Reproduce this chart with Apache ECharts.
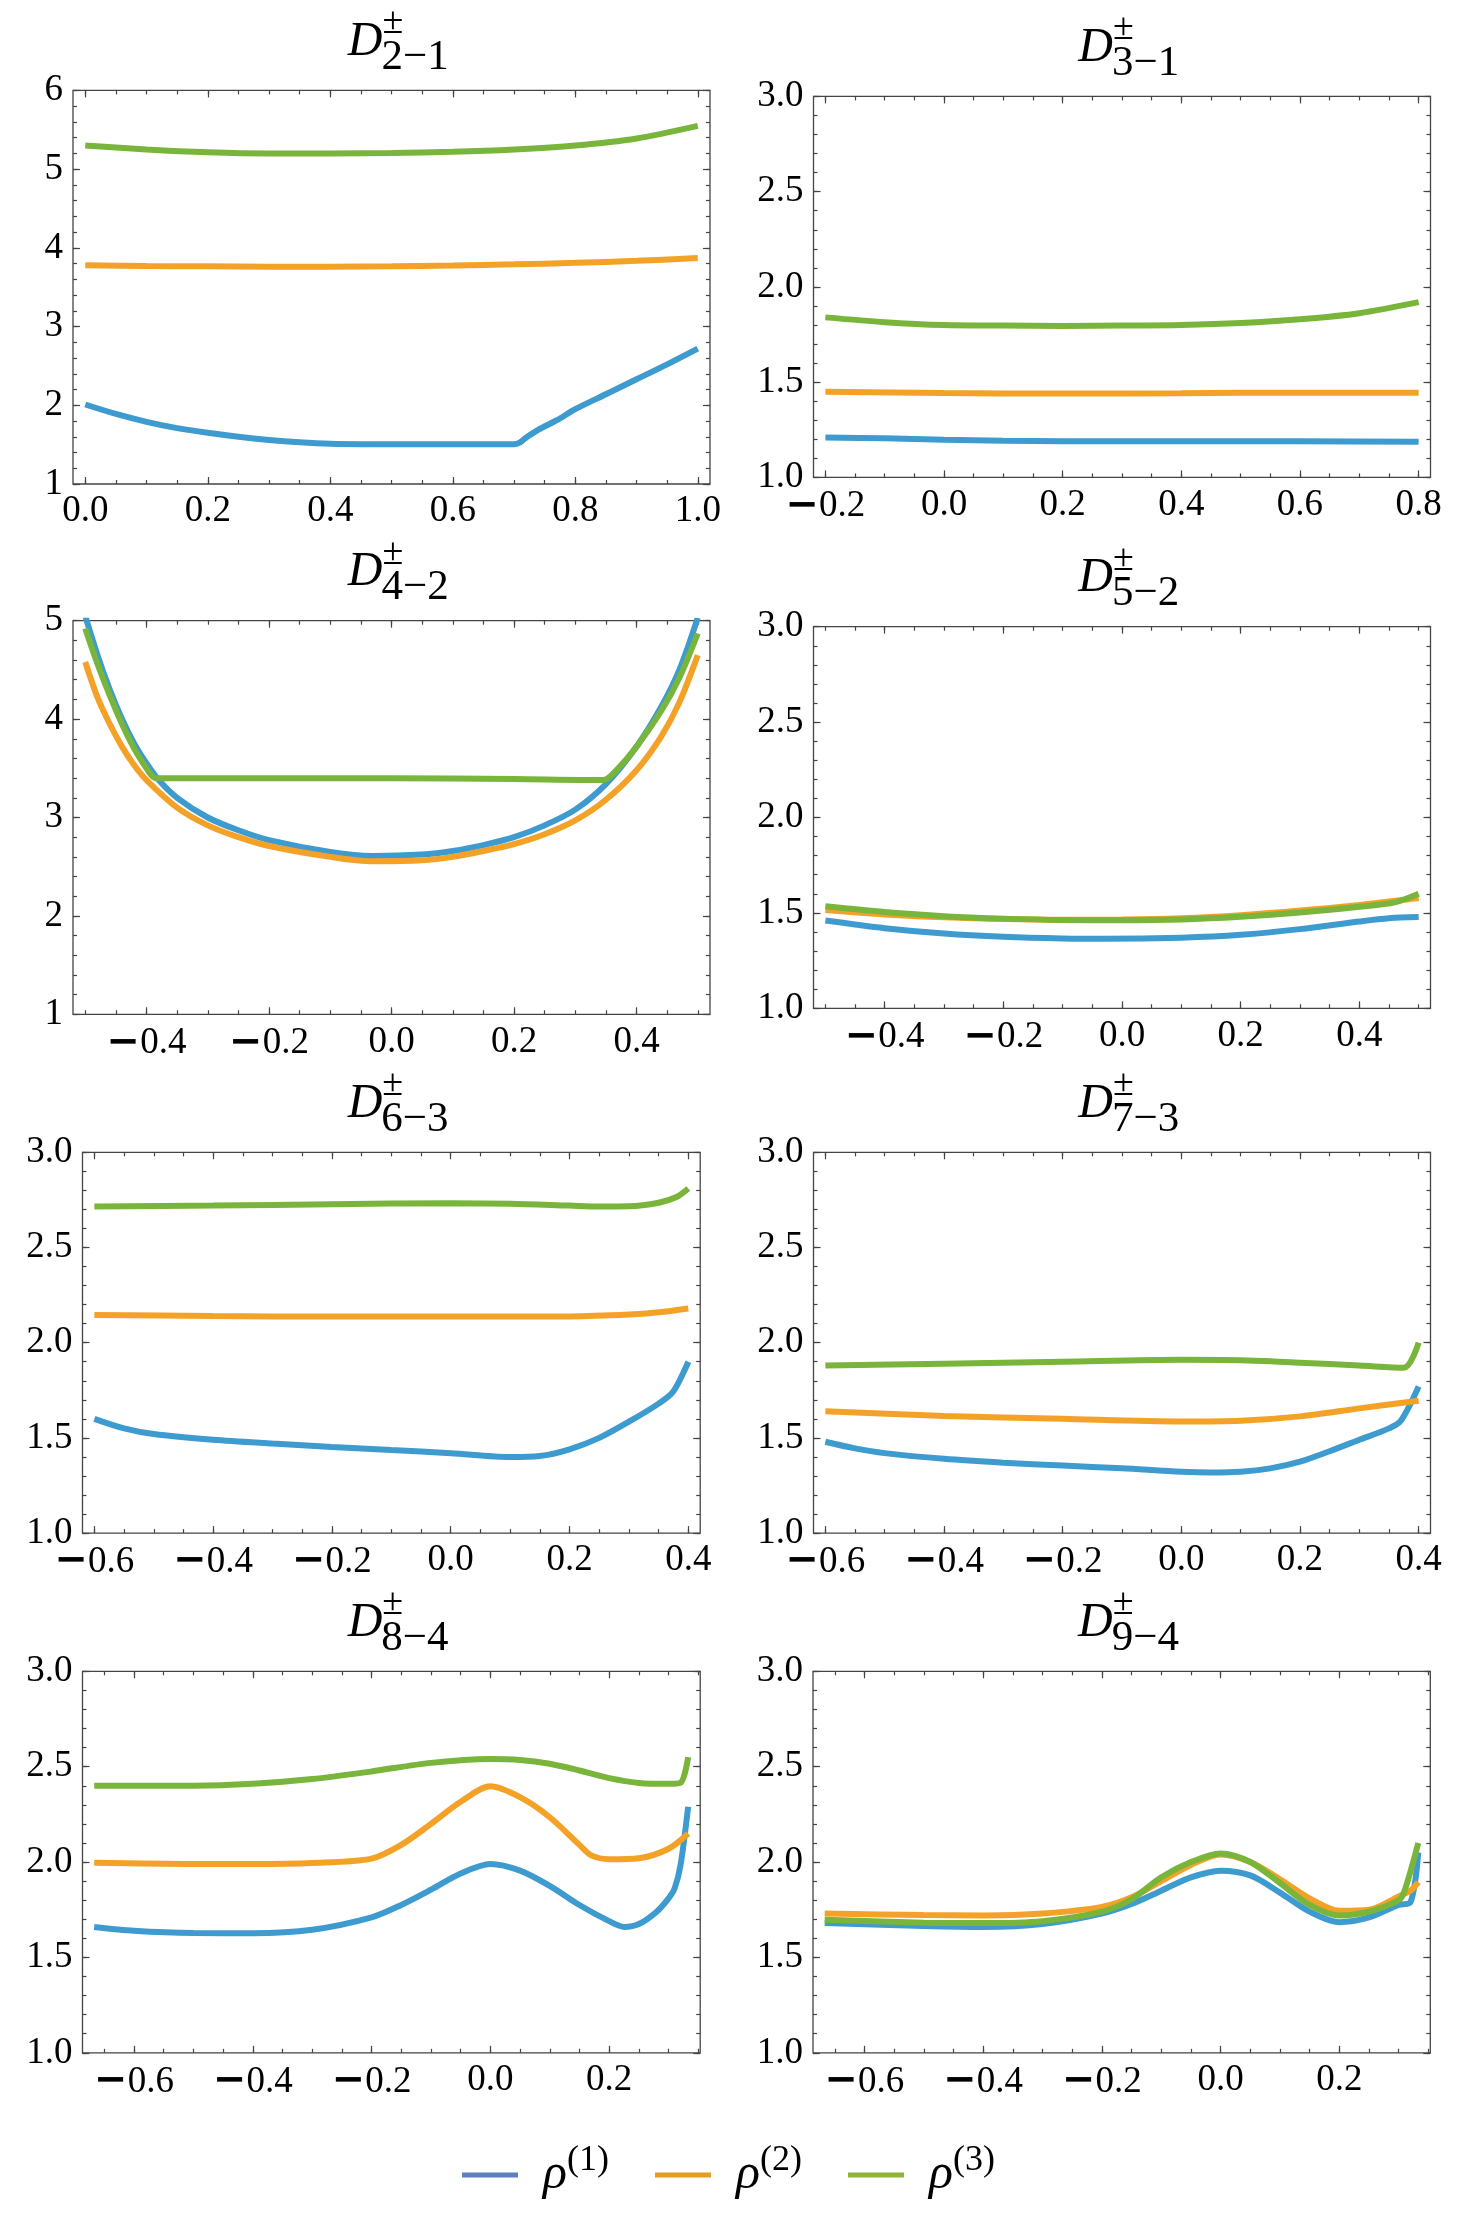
<!DOCTYPE html>
<html>
<head>
<meta charset="utf-8">
<title>D panels</title>
<script src="https://cdn.jsdelivr.net/npm/echarts@6/dist/echarts.min.js"></script>
<style>
html, body { margin: 0; padding: 0; background: #fff; }
#chart { width: 1462px; height: 2223px; }
</style>
</head>
<body>
<div id="chart"></div>
<script>
// series names
var names = ['ρ(1)', 'ρ(2)', 'ρ(3)'];

// tick labels
var xt_a = [0, 0.2, 0.4, 0.6, 0.8, 1.0];
var xt_b = [-0.2, 0, 0.2, 0.4, 0.6, 0.8];
var xt_c = [-0.4, -0.2, 0, 0.2, 0.4];
var xt_d = [-0.6, -0.4, -0.2, 0, 0.2, 0.4];
var xt_e = [-0.6, -0.4, -0.2, 0, 0.2];
var yt_6 = [1, 2, 3, 4, 5, 6];
var yt_5 = [1, 2, 3, 4, 5];
var yt_3 = [1.0, 1.5, 2.0, 2.5, 3.0];

// D 2-1
var b21 = [[0,2.01],[0.05,1.89],[0.1,1.79],[0.15,1.71],[0.2,1.65],[0.25,1.6],[0.3,1.56],[0.35,1.53],[0.4,1.51],[0.45,1.505],[0.5,1.505],[0.6,1.505],[0.7,1.505],[0.71,1.53],[0.72,1.59],[0.74,1.69],[0.77,1.81],[0.8,1.95],[0.85,2.14],[0.9,2.33],[0.95,2.52],[1.0,2.72]];
var o21 = [[0,3.78],[0.1,3.77],[0.2,3.765],[0.3,3.76],[0.4,3.76],[0.5,3.765],[0.6,3.775],[0.7,3.79],[0.8,3.81],[0.9,3.835],[1.0,3.87]];
var g21 = [[0,5.3],[0.1,5.25],[0.2,5.215],[0.3,5.2],[0.4,5.2],[0.5,5.205],[0.6,5.22],[0.7,5.25],[0.8,5.3],[0.9,5.39],[1.0,5.55]];
// D 3-1
var b31 = [[-0.2,1.21],[-0.1,1.205],[0,1.198],[0.1,1.193],[0.2,1.19],[0.4,1.19],[0.6,1.19],[0.8,1.187]];
var o31 = [[-0.2,1.45],[0,1.443],[0.2,1.44],[0.4,1.442],[0.6,1.445],[0.8,1.444]];
var g31 = [[-0.2,1.84],[-0.1,1.815],[0,1.8],[0.1,1.797],[0.2,1.795],[0.3,1.797],[0.4,1.8],[0.5,1.81],[0.6,1.83],[0.7,1.862],[0.8,1.92]];
// D 4-2
var b42 = [[-0.5,5.05],[-0.48,4.65],[-0.46,4.3],[-0.44,4.0],[-0.42,3.75],[-0.4,3.55],[-0.38,3.38],[-0.35,3.2],[-0.3,3.0],[-0.25,2.87],[-0.2,2.77],[-0.1,2.65],[-0.03,2.61],[0.05,2.625],[0.1,2.66],[0.15,2.72],[0.2,2.8],[0.25,2.92],[0.3,3.08],[0.35,3.34],[0.4,3.72],[0.44,4.12],[0.47,4.5],[0.5,5.03]];
var o42 = [[-0.5,4.58],[-0.48,4.22],[-0.46,3.95],[-0.44,3.72],[-0.42,3.53],[-0.4,3.38],[-0.35,3.1],[-0.3,2.92],[-0.25,2.8],[-0.2,2.71],[-0.1,2.6],[-0.03,2.555],[0.05,2.565],[0.1,2.6],[0.15,2.66],[0.2,2.73],[0.25,2.83],[0.3,2.97],[0.35,3.18],[0.4,3.48],[0.44,3.82],[0.47,4.17],[0.5,4.65]];
var g42 = [[-0.5,4.92],[-0.48,4.56],[-0.46,4.24],[-0.44,3.95],[-0.42,3.7],[-0.4,3.5],[-0.385,3.4],[-0.2,3.4],[0,3.4],[0.2,3.39],[0.345,3.38],[0.37,3.5],[0.4,3.72],[0.44,4.08],[0.47,4.42],[0.5,4.87]];
// D 5-2
var b52 = [[-0.5,1.46],[-0.4,1.42],[-0.3,1.392],[-0.2,1.375],[-0.1,1.366],[-0.03,1.364],[0.1,1.37],[0.2,1.385],[0.3,1.415],[0.4,1.455],[0.45,1.472],[0.5,1.478]];
var o52 = [[-0.5,1.515],[-0.4,1.492],[-0.3,1.477],[-0.2,1.468],[-0.1,1.464],[0,1.465],[0.1,1.472],[0.2,1.488],[0.3,1.512],[0.4,1.542],[0.5,1.578]];
var g52 = [[-0.5,1.535],[-0.4,1.505],[-0.3,1.483],[-0.2,1.47],[-0.1,1.463],[0,1.462],[0.1,1.466],[0.2,1.48],[0.3,1.502],[0.4,1.532],[0.46,1.555],[0.5,1.6]];
// D 6-3
var b63 = [[-0.6,1.6],[-0.55,1.55],[-0.5,1.52],[-0.4,1.49],[-0.3,1.47],[-0.2,1.452],[-0.1,1.436],[0,1.42],[0.1,1.4],[0.15,1.405],[0.2,1.44],[0.25,1.5],[0.3,1.585],[0.35,1.68],[0.375,1.745],[0.4,1.9]];
var o63 = [[-0.6,2.146],[-0.4,2.14],[-0.2,2.137],[0,2.137],[0.2,2.138],[0.3,2.148],[0.35,2.16],[0.4,2.18]];
var g63 = [[-0.6,2.715],[-0.4,2.72],[-0.2,2.727],[0,2.733],[0.1,2.73],[0.2,2.72],[0.25,2.715],[0.3,2.716],[0.35,2.735],[0.38,2.765],[0.4,2.81]];
// D 7-3
var b73 = [[-0.6,1.48],[-0.55,1.445],[-0.5,1.42],[-0.4,1.39],[-0.3,1.37],[-0.2,1.355],[-0.1,1.34],[0,1.322],[0.05,1.318],[0.1,1.322],[0.15,1.34],[0.2,1.375],[0.25,1.43],[0.3,1.49],[0.35,1.55],[0.37,1.59],[0.4,1.77]];
var o73 = [[-0.6,1.64],[-0.4,1.615],[-0.2,1.6],[0,1.586],[0.1,1.59],[0.2,1.613],[0.3,1.655],[0.4,1.695]];
var g73 = [[-0.6,1.88],[-0.4,1.89],[-0.2,1.9],[0,1.91],[0.1,1.908],[0.2,1.895],[0.3,1.88],[0.375,1.868],[0.4,2.0]];
// D 8-4
var b84 = [[-0.667,1.66],[-0.6,1.64],[-0.5,1.628],[-0.4,1.627],[-0.3,1.645],[-0.2,1.71],[-0.15,1.775],[-0.1,1.855],[-0.05,1.94],[0,1.99],[0.05,1.955],[0.1,1.875],[0.15,1.775],[0.2,1.69],[0.225,1.66],[0.25,1.675],[0.28,1.74],[0.3,1.81],[0.31,1.86],[0.32,1.98],[0.333,2.29]];
var o84 = [[-0.667,1.996],[-0.5,1.99],[-0.4,1.99],[-0.3,1.995],[-0.2,2.018],[-0.15,2.09],[-0.1,2.2],[-0.05,2.316],[0,2.397],[0.05,2.34],[0.1,2.235],[0.15,2.09],[0.17,2.035],[0.2,2.015],[0.25,2.02],[0.3,2.07],[0.333,2.15]];
var g84 = [[-0.667,2.4],[-0.5,2.4],[-0.4,2.41],[-0.3,2.435],[-0.2,2.475],[-0.1,2.52],[0,2.54],[0.05,2.535],[0.1,2.515],[0.15,2.48],[0.2,2.44],[0.25,2.415],[0.3,2.41],[0.32,2.415],[0.333,2.55]];
// D 9-4
var b94 = [[-0.667,1.68],[-0.5,1.665],[-0.4,1.66],[-0.3,1.675],[-0.2,1.73],[-0.15,1.78],[-0.1,1.85],[-0.05,1.92],[0,1.955],[0.05,1.93],[0.1,1.84],[0.15,1.74],[0.2,1.685],[0.25,1.71],[0.3,1.775],[0.32,1.79],[0.333,2.05]];
var o94 = [[-0.667,1.73],[-0.5,1.722],[-0.4,1.72],[-0.3,1.73],[-0.2,1.765],[-0.15,1.815],[-0.1,1.9],[-0.05,1.985],[0,2.04],[0.05,2.0],[0.1,1.91],[0.15,1.81],[0.2,1.745],[0.25,1.75],[0.3,1.82],[0.32,1.85],[0.333,1.895]];
var g94 = [[-0.667,1.697],[-0.5,1.682],[-0.4,1.68],[-0.3,1.69],[-0.2,1.74],[-0.15,1.805],[-0.1,1.92],[-0.05,2.0],[0,2.045],[0.05,2.0],[0.1,1.89],[0.15,1.775],[0.2,1.72],[0.25,1.74],[0.3,1.8],[0.31,1.85],[0.333,2.1]];

var lineColors = ['#3e9bd0', '#f4a227', '#78b53a'];
var legendColors = ['#5b80bd', '#e49c27', '#8fb23a'];
var frame = '#444';
var serif = '"Liberation Serif", "DejaVu Serif", serif';

var panels = [
  {sub:'2−1', l:73,  t:90.4,   w:637, h:393.6, xr:[-0.02,1.02],   yr:[1,6], xt:xt_a, yt:yt_6, ym:0.2, yd:0, d:[b21,o21,g21]},
  {sub:'3−1', l:813.5, t:96.4, w:617, h:381,   xr:[-0.22,0.82],   yr:[1,3], xt:xt_b, yt:yt_3, ym:0.1, yd:1, d:[b31,o31,g31]},
  {sub:'4−2', l:73,  t:620.7,  w:637, h:393.6, xr:[-0.52,0.52],   yr:[1,5], xt:xt_c, yt:yt_5, ym:0.2, yd:0, d:[b42,o42,g42]},
  {sub:'5−2', l:813.5, t:626.7, w:617, h:381.6, xr:[-0.52,0.52],  yr:[1,3], xt:xt_c, yt:yt_3, ym:0.1, yd:1, d:[b52,o52,g52]},
  {sub:'6−3', l:82.5, t:1152.3, w:617.7, h:380.8, xr:[-0.62,0.42], yr:[1,3], xt:xt_d, yt:yt_3, ym:0.1, yd:1, d:[b63,o63,g63]},
  {sub:'7−3', l:813.5, t:1152.3, w:617, h:380.8, xr:[-0.62,0.42], yr:[1,3], xt:xt_d, yt:yt_3, ym:0.1, yd:1, d:[b73,o73,g73]},
  {sub:'8−4', l:82.5, t:1671.3, w:617.7, h:381.5, xr:[-0.6867,0.3533], yr:[1,3], xt:xt_e, yt:yt_3, ym:0.1, yd:1, d:[b84,o84,g84]},
  {sub:'9−4', l:813, t:1671.3, w:617.3, h:381.5, xr:[-0.6867,0.3533], yr:[1,3], xt:xt_e, yt:yt_3, ym:0.1, yd:1, d:[b94,o94,g94]}
];

function minors(r, step) {
  var out = [];
  for (var k = Math.ceil(r[0] / step - 1e-9); k * step <= r[1] + 1e-9; k++) {
    out.push(Math.round(k * step * 10000) / 10000);
  }
  return out;
}

function fmtX(v) {
  if (v < -1e-9) return '{m|−}' + Math.abs(v).toFixed(1);
  return Math.abs(v).toFixed(1);
}

var tickLine = { color: frame, width: 1.2 };
var labelStyle = {
  color: '#000', fontFamily: serif, fontSize: 37,
  rich: { m: { fontFamily: 'DejaVu Sans', fontWeight: 'bold', fontSize: 40, color: '#000' } }
};

var grid = [], xAxis = [], yAxis = [], series = [], graphic = [];

panels.forEach(function (p, i) {
  grid.push({ left: p.l, top: p.t, width: p.w, height: p.h, show: true,
    borderColor: frame, borderWidth: 1.3, backgroundColor: 'transparent',
    containLabel: false, outerBoundsMode: 'none' });

  var xm = minors(p.xr, 0.05), ymn = minors(p.yr, p.ym);
  var bx = { type: 'value', gridIndex: i, min: p.xr[0], max: p.xr[1],
    axisLine: { show: false, onZero: false }, splitLine: { show: false } };
  var by = { type: 'value', gridIndex: i, min: p.yr[0], max: p.yr[1],
    axisLine: { show: false, onZero: false }, splitLine: { show: false } };

  xAxis.push(Object.assign({}, bx, { position: 'bottom',
    axisTick: { inside: true, length: 7, customValues: p.xt, lineStyle: tickLine },
    axisLabel: Object.assign({ customValues: p.xt, margin: 9, formatter: fmtX }, labelStyle) }));
  xAxis.push(Object.assign({}, bx, { position: 'bottom',
    axisTick: { inside: true, length: 4, customValues: xm, lineStyle: tickLine }, axisLabel: { show: false } }));
  xAxis.push(Object.assign({}, bx, { position: 'top',
    axisTick: { inside: true, length: 7, customValues: p.xt, lineStyle: tickLine }, axisLabel: { show: false } }));
  xAxis.push(Object.assign({}, bx, { position: 'top',
    axisTick: { inside: true, length: 4, customValues: xm, lineStyle: tickLine }, axisLabel: { show: false } }));

  var yd = p.yd;
  yAxis.push(Object.assign({}, by, { position: 'left',
    axisTick: { inside: true, length: 7, customValues: p.yt, lineStyle: tickLine },
    axisLabel: Object.assign({ customValues: p.yt, margin: 10,
      formatter: function (v) { return v.toFixed(yd); } }, labelStyle) }));
  yAxis.push(Object.assign({}, by, { position: 'left',
    axisTick: { inside: true, length: 4, customValues: ymn, lineStyle: tickLine }, axisLabel: { show: false } }));
  yAxis.push(Object.assign({}, by, { position: 'right',
    axisTick: { inside: true, length: 7, customValues: p.yt, lineStyle: tickLine }, axisLabel: { show: false } }));
  yAxis.push(Object.assign({}, by, { position: 'right',
    axisTick: { inside: true, length: 4, customValues: ymn, lineStyle: tickLine }, axisLabel: { show: false } }));

  p.d.forEach(function (arr, k) {
    series.push({ type: 'line', name: names[k], xAxisIndex: 4 * i, yAxisIndex: 4 * i,
      data: arr, showSymbol: false, smooth: 0.3,
      lineStyle: { color: lineColors[k], width: 6 }, itemStyle: { color: lineColors[k] },
      silent: true, animation: false });
  });

  // title D^{±}_{sub}
  var cx = p.l + p.w / 2;
  graphic.push({ type: 'text', x: cx - 9, y: p.t - 48, silent: true,
    style: { text: 'D', fontFamily: serif, fontStyle: 'italic', fontSize: 48, fill: '#000', align: 'right', verticalAlign: 'middle' } });
  graphic.push({ type: 'text', x: cx - 9, y: p.t - 67, silent: true,
    style: { text: '±', fontFamily: serif, fontSize: 38, fill: '#000', align: 'left', verticalAlign: 'middle' } });
  graphic.push({ type: 'text', x: cx - 10, y: p.t - 33, silent: true,
    style: { text: p.sub, fontFamily: serif, fontSize: 43, fill: '#000', align: 'left', verticalAlign: 'middle' } });
});

var legendLeft = [457, 650, 843];
var legend = names.map(function (n, k) {
  return {
    data: [{ name: n, itemStyle: { color: legendColors[k] } }],
    left: legendLeft[k], top: 2138, icon: 'rect', itemWidth: 56, itemHeight: 5,
    selectedMode: false,
    formatter: function (name) { return '{r|ρ}{s|' + name.slice(1) + '}'; },
    textStyle: { padding: [0, 0, 0, 20],
      rich: {
        r: { fontFamily: serif, fontStyle: 'italic', fontSize: 50, lineHeight: 64, color: '#000' },
        s: { fontFamily: serif, fontSize: 36, lineHeight: 34, verticalAlign: 'top', color: '#000' }
      } }
  };
});

var chart = echarts.init(document.getElementById('chart'));
chart.setOption({
  backgroundColor: '#fff',
  animation: false,
  grid: grid, xAxis: xAxis, yAxis: yAxis, series: series,
  legend: legend, graphic: graphic
});
</script>
</body>
</html>
